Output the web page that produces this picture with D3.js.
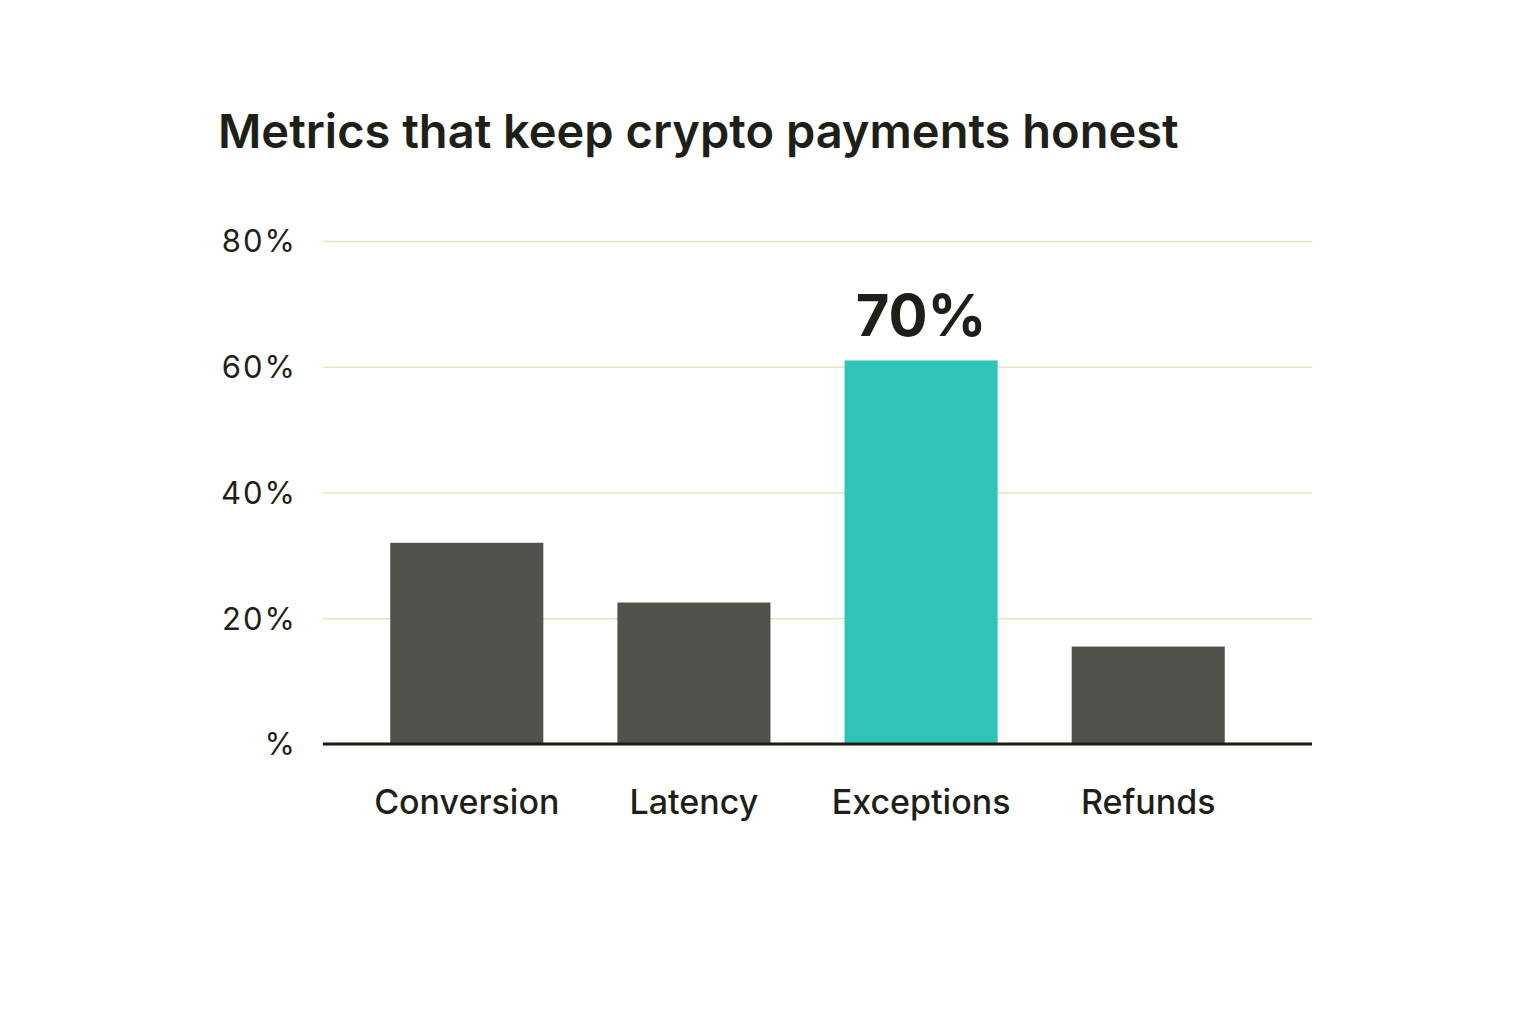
<!DOCTYPE html>
<html><head><meta charset="utf-8">
<script src="https://cdn.jsdelivr.net/npm/d3@7"></script>
<style>body{margin:0;background:#fff;} text{font-family:Inter,"Noto Sans",sans-serif;}</style>
</head><body><svg id="c"></svg>
<script>
var categories = ["Conversion", "Latency", "Exceptions", "Refunds"];
var values = [32, 22.5, 61, 15.5];
var highlight = "Exceptions";
var highlightLabel = "70%";
var yTicks = [0, 20, 40, 60, 80];
var yTickLabels = ["%", "20%", "40%", "60%", "80%"];

var width = 1536, height = 1024;
var svg = d3.select("#c").attr("width", width).attr("height", height);

var margin = {top: 241, left: 323, right: 224, bottom: 280};
var plotW = width - margin.left - margin.right;
var plotH = height - margin.top - margin.bottom;

var x = d3.scaleBand().domain(categories).range([-10, plotW - 10]).paddingInner(0.326).paddingOuter(0.34);
var y = d3.scaleLinear().domain([0, 80]).range([plotH, 0]);

var g = svg.append("g").attr("transform", "translate(" + margin.left + "," + margin.top + ")");

svg.append("text").attr("x", 218).attr("y", 148)
    .style("font-size", "47px").style("font-weight", 600).style("fill", "#1f1f1a")
    .text("Metrics that keep crypto payments honest");

// gridlines + y labels
var yAxis = g.append("g")
    .call(d3.axisLeft(y).tickValues(yTicks).tickSize(-plotW)
        .tickFormat(function(d, i) { return yTickLabels[i]; }));
yAxis.select(".domain").remove();
yAxis.selectAll(".tick line").attr("stroke", "#ece2c2").attr("stroke-width", 1.5);
yAxis.selectAll(".tick text").attr("x", -26).attr("dy", "0.35em")
    .style("font-size", "31px").style("fill", "#1f1f1a").style("letter-spacing", "2px")
    .style("font-family", "Inter, 'Noto Sans', sans-serif");

g.selectAll(".bar").data(categories).enter().append("rect")
    .attr("x", function(d) { return x(d); })
    .attr("width", x.bandwidth())
    .attr("y", function(d, i) { return y(values[i]); })
    .attr("height", function(d, i) { return plotH - y(values[i]); })
    .attr("fill", function(d) { return d === highlight ? "#30c3b8" : "#51524c"; });

g.append("line").attr("x1", 0).attr("x2", plotW).attr("y1", plotH).attr("y2", plotH)
    .attr("stroke", "#1a1a14").attr("stroke-width", 3);

g.append("text")
    .attr("x", x(highlight) + x.bandwidth() / 2)
    .attr("y", y(values[categories.indexOf(highlight)]) - 24)
    .attr("text-anchor", "middle")
    .style("font-size", "58px").style("font-weight", 700).style("fill", "#1f1f1a")
    .text(highlightLabel);

g.selectAll(".cat").data(categories).enter().append("text")
    .attr("x", function(d) { return x(d) + x.bandwidth() / 2; })
    .attr("y", plotH + 70)
    .attr("text-anchor", "middle")
    .style("font-size", "34px").style("font-weight", 500).style("fill", "#1f1f1a")
    .text(function(d) { return d; });
</script>
</body></html>
